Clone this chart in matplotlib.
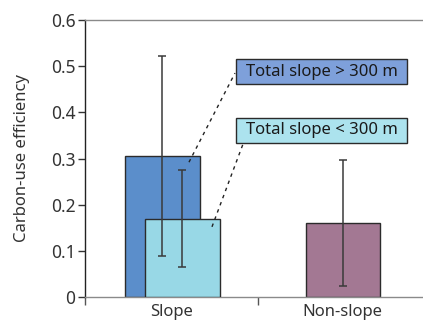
import matplotlib
matplotlib.use("Agg")
import matplotlib.pyplot as plt
from matplotlib.patches import Rectangle

plt.rcParams['font.family'] = ['Noto Sans', 'DejaVu Sans']

# Data
categories = ["Slope", "Non-slope"]
slope_high_value = 0.305   # Total slope > 300 m
slope_high_err = 0.216
slope_low_value = 0.17     # Total slope < 300 m
slope_low_err = 0.106
nonslope_value = 0.16
nonslope_err = 0.137
yticks = [0, 0.1, 0.2, 0.3, 0.4, 0.5, 0.6]
ytick_labels = ["0", "0.1", "0.2", "0.3", "0.4", "0.5", "0.6"]
legend_high = "Total slope > 300 m"
legend_low = "Total slope < 300 m"
ylabel = "Carbon-use efficiency"

fig = plt.figure(figsize=(4.23, 3.21), dpi=100)
ax = fig.add_axes([85/423, 24/321, 338/423, 277/321])

edge = "#2b2b2b"
w = 0.434
ax.bar(0.448, slope_high_value, width=w, color="#5b8ecb", edgecolor=edge, linewidth=1.0, zorder=2)
ax.bar(0.564, slope_low_value, width=w, color="#98d8e6", edgecolor=edge, linewidth=1.0, zorder=3)
ax.bar(1.491, nonslope_value, width=0.428, color="#a37893", edgecolor=edge, linewidth=1.0, zorder=2)

ekw = dict(fmt='none', ecolor="#3a3a3a", elinewidth=1.1, capsize=3, capthick=1.1)
ax.errorbar(0.445, slope_high_value, yerr=slope_high_err, zorder=4, **ekw)
ax.errorbar(0.561, slope_low_value, yerr=slope_low_err, zorder=5, **ekw)
ax.errorbar(1.49, nonslope_value, yerr=nonslope_err, zorder=4, **ekw)

ax.set_xlim(0, 338/173)
ax.set_ylim(0, 0.6)

# Legend boxes
for (x0, y0, x1, y1, fc, txt) in [(0.873, 0.461, 1.861, 0.515, "#7ea0da", legend_high),
                                  (0.873, 0.334, 1.861, 0.388, "#ace3ee", legend_low)]:
    ax.add_patch(Rectangle((x0, y0), x1 - x0, y1 - y0, facecolor=fc, edgecolor=edge,
                           linewidth=1.0, zorder=6, clip_on=False))
    ax.text((x0 + x1) / 2, (y0 + y1) / 2, txt, ha='center', va='center',
            fontsize=12, color="#1a1a1a", zorder=7)

# Dashed leader lines
ax.plot([0.601, 0.867], [0.292, 0.485], linestyle=(0, (2.5, 3)), color="#222222", linewidth=1.0, zorder=6)
ax.plot([0.734, 0.913], [0.152, 0.331], linestyle=(0, (2.5, 3)), color="#222222", linewidth=1.0, zorder=6)

# Axes styling
ax.spines['right'].set_visible(False)
ax.spines['top'].set_color("#8a8a8a")
ax.spines['bottom'].set_color("#8a8a8a")
ax.spines['left'].set_color("#222222")
for s in ['top', 'bottom', 'left']:
    ax.spines[s].set_linewidth(1.0)

ax.set_yticks(yticks)
ax.set_yticklabels(ytick_labels, fontsize=12.5, color="#333333")
ax.tick_params(axis='y', direction='out', length=5, width=1.0, color="#333333", pad=2)

ax.set_xticks([0, 1])
ax.set_xticklabels(["", ""])
ax.tick_params(axis='x', which='major', direction='out', length=6, width=1.0, color="#555555")
ax.set_xticks([0.503, 1.49], minor=True)
ax.set_xticklabels(categories, minor=True, fontsize=12, color="#333333")
ax.tick_params(axis='x', which='minor', length=0, pad=5)

ax.set_ylabel(ylabel, fontsize=12, color="#333333", labelpad=15)

fig.savefig("out.png", dpi=100)
